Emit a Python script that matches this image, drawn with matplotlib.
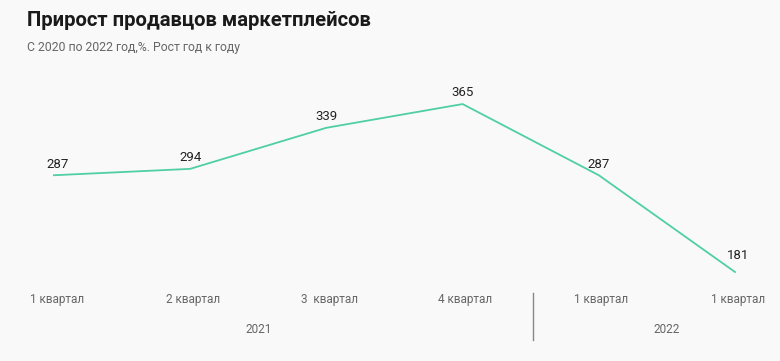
import matplotlib.pyplot as plt
import matplotlib.transforms as mtransforms

# data
quarters = ["1 квартал", "2 квартал", "3  квартал", "4 квартал", "1 квартал", "1 квартал"]
values = [287, 294, 339, 365, 287, 181]
years = ["2021", "2022"]
year_spans = [(0, 3), (4, 5)]

plt.rcParams["font.family"] = ["Roboto", "DejaVu Sans"]

fig = plt.figure(figsize=(7.8, 3.61), dpi=100, facecolor="#f9f9f9")
ax = fig.add_axes([0, 0, 1, 1])
ax.set_facecolor("#f9f9f9")
ax.axis("off")

x = list(range(len(values)))
ax.plot(x, values, color="#4fcfa2", linewidth=1.3)
ax.set_xlim(-0.396, 5.33)
ax.set_ylim(83.5, 479)

for xi, v in zip(x, values):
    dx = 3 if xi == 0 else (2 if xi == len(values) - 1 else 0)
    dy = 12 if xi == len(values) - 1 else 8
    ax.annotate(str(v), (xi, v), xytext=(dx, dy), textcoords="offset points",
                ha="center", va="center", fontsize=9.5, color="#222222")

trans = mtransforms.blended_transform_factory(ax.transData, ax.transAxes)
for xi, q in zip(x, quarters):
    ax.text(xi + 0.02, 0.169, q, transform=trans, ha="center", va="center", fontsize=8.5, color="#666666")

for yr, (a, b) in zip(years, year_spans):
    ax.text((a + b) / 2, 0.086, yr, transform=trans, ha="center", va="center", fontsize=8.5, color="#666666")

ax.plot([3.517, 3.517], [0.058, 0.188], transform=trans, color="#888888", linewidth=1)

fig.text(27 / 780, 1 - 20 / 361, "Прирост продавцов маркетплейсов", fontsize=14.6, fontweight="bold",
         color="#1a1a1a", ha="left", va="center")
fig.text(27 / 780, 1 - 47 / 361, "С 2020 по 2022 год,%. Рост год к году", fontsize=8.8,
         color="#666666", ha="left", va="center")

fig.savefig("out.png", dpi=100, facecolor=fig.get_facecolor())
